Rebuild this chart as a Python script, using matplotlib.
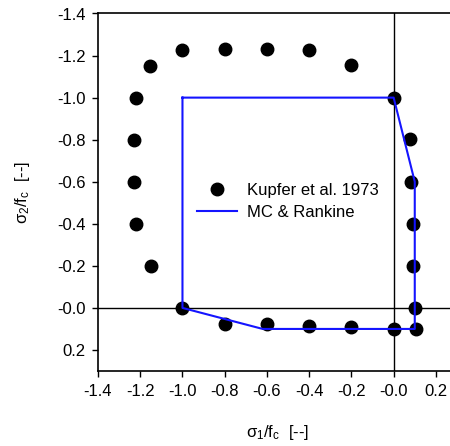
import numpy as np
import matplotlib.pyplot as plt
from matplotlib.ticker import FixedLocator, FixedFormatter

plt.rcParams['font.family'] = ['Liberation Sans', 'DejaVu Sans']
plt.rcParams['mathtext.fontset'] = 'custom'
plt.rcParams['mathtext.rm'] = 'Liberation Sans'

# Kupfer et al. 1973 test points (sigma1/fc, sigma2/fc)
kupfer_s1 = [-1.22, -1.155, -1.0, -0.8, -0.6, -0.4, -0.2, 0.0, 0.076, 0.08, 0.09, 0.094,
             0.10, 0.105, 0.0, -0.2, -0.4, -0.6, -0.8, -1.0, -1.15, -1.22, -1.23, -1.23]
kupfer_s2 = [-1.0, -1.15, -1.225, -1.23, -1.23, -1.225, -1.155, -1.0, -0.805, -0.6, -0.4, -0.2,
             0.0, 0.10, 0.10, 0.09, 0.085, 0.076, 0.076, 0.0, -0.2, -0.4, -0.6, -0.8]

# MC & Rankine envelope
mc_s1 = [-1.0, 0.0, 0.1, 0.1, -0.62, -1.0, -1.0]
mc_s2 = [-1.0, -1.0, -0.6, 0.1, 0.1, 0.0, -1.0]

x_ticks = [-1.4, -1.2, -1.0, -0.8, -0.6, -0.4, -0.2, 0.0, 0.2]
x_labels = ['-1.4', '-1.2', '-1.0', '-0.8', '-0.6', '-0.4', '-0.2', '-0.0', '0.2']
y_ticks = [-1.4, -1.2, -1.0, -0.8, -0.6, -0.4, -0.2, 0.0, 0.2]
y_labels = ['-1.4', '-1.2', '-1.0', '-0.8', '-0.6', '-0.4', '-0.2', '-0.0', '0.2']

fig = plt.figure(figsize=(4.5, 4.46), dpi=100)
ax = fig.add_axes([98 / 450, 75 / 446, 359 / 450, 357.5 / 446])

ax.axhline(0, color='black', lw=1.0, zorder=1)
ax.axvline(0, color='black', lw=1.0, zorder=1)

ax.plot(kupfer_s1, kupfer_s2, 'o', color='black', markersize=9, linestyle='none',
        label='Kupfer et al. 1973', zorder=3)
ax.plot(mc_s1, mc_s2, color='#1414ff', lw=1.5, label='MC & Rankine', zorder=4)

ax.set_xlim(-1.4, 0.3)
ax.set_ylim(0.3, -1.4)

ax.xaxis.set_major_locator(FixedLocator(x_ticks))
ax.xaxis.set_major_formatter(FixedFormatter(x_labels))
ax.yaxis.set_major_locator(FixedLocator(y_ticks))
ax.yaxis.set_major_formatter(FixedFormatter(y_labels))
ax.tick_params(direction='out', length=4, width=1, labelsize=12, pad=5)

for side in ['left', 'bottom', 'top', 'right']:
    ax.spines[side].set_linewidth(1.2)

ax.set_xlabel(r'$\mathregular{\sigma_1/f_c}$  [--]', fontsize=12, labelpad=18)
ax.set_ylabel(r'$\mathregular{\sigma_2/f_c}$  [--]', fontsize=12, labelpad=18)

ax.legend(loc='upper left', bbox_to_anchor=(189 / 450, 1 - 175 / 446),
          bbox_transform=fig.transFigure, frameon=False, fontsize=12,
          handlelength=2.4, handletextpad=0.6, labelspacing=0.4, borderpad=0)

fig.savefig('out.png', dpi=100)
